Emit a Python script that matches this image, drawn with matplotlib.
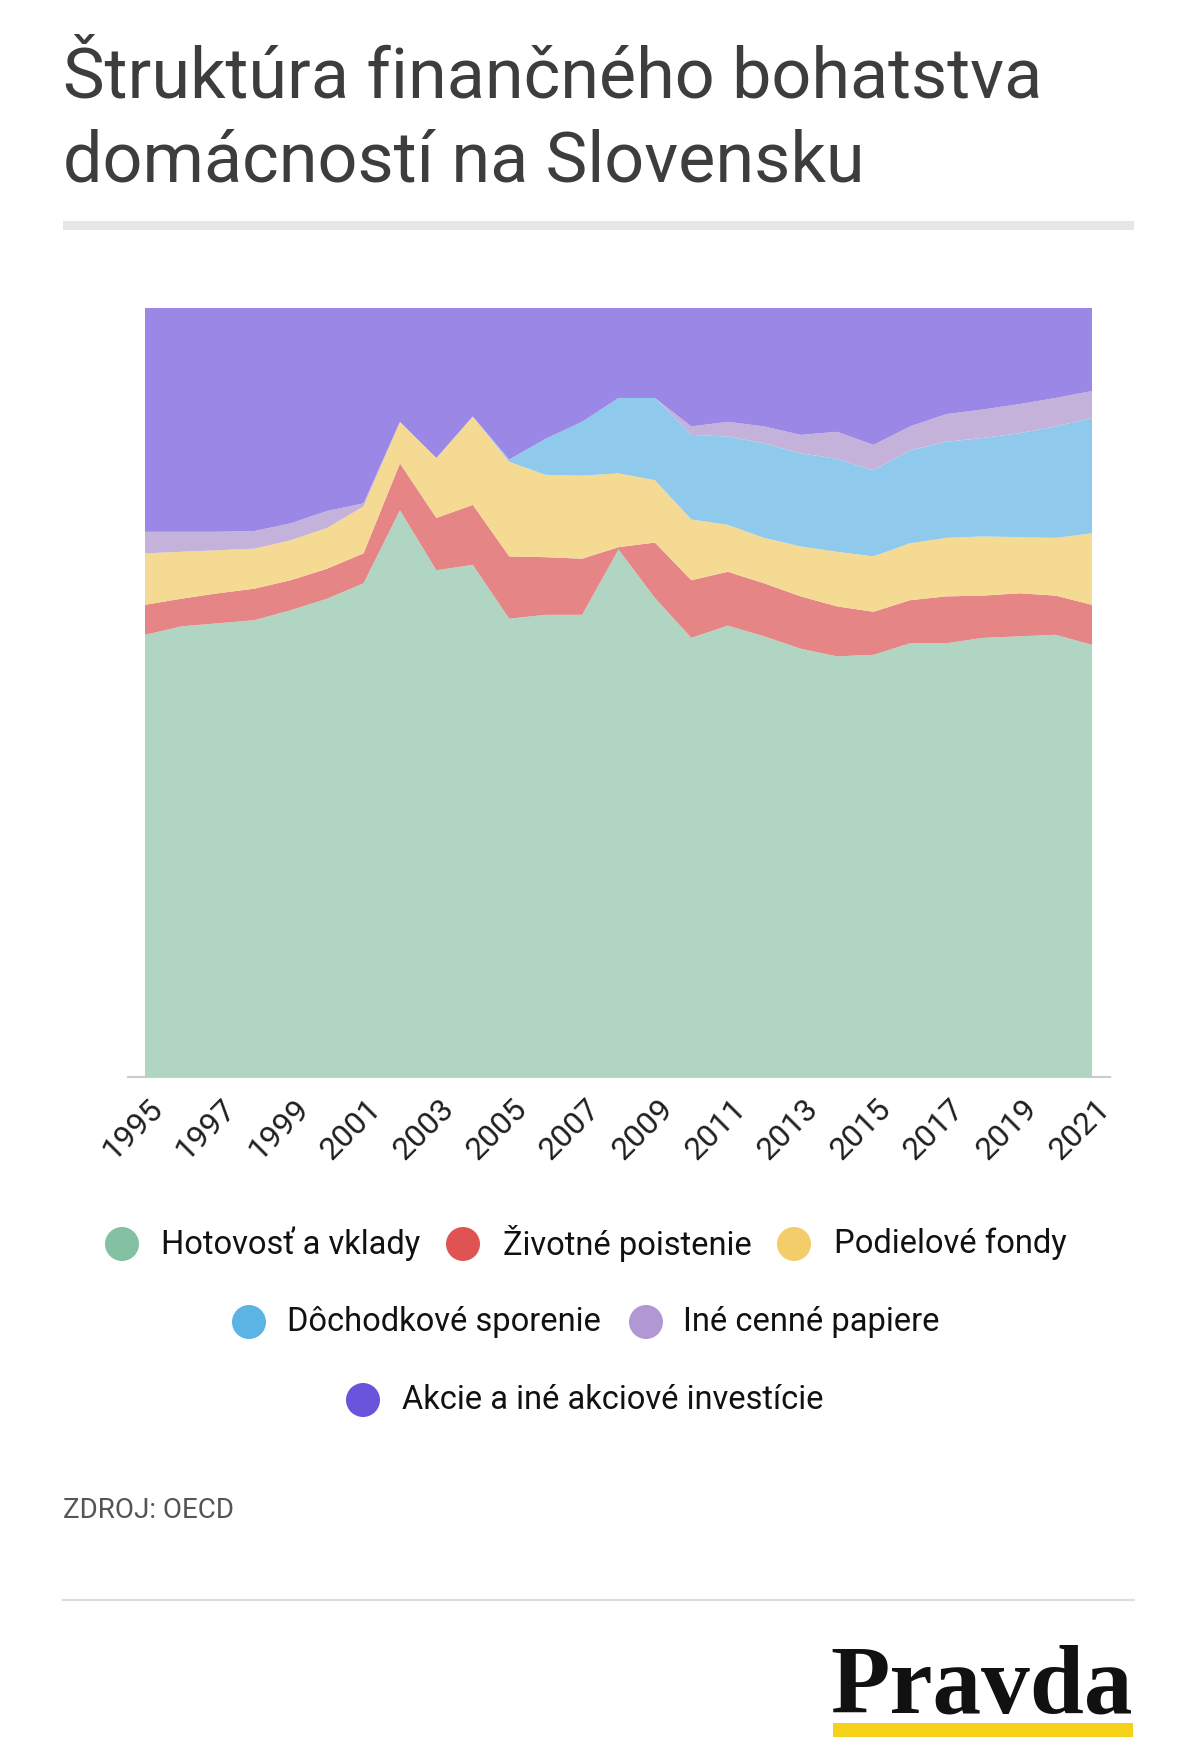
import numpy as np
import matplotlib
matplotlib.use('Agg')
from matplotlib import pyplot as plt
from matplotlib import transforms
from matplotlib.patches import Circle, Rectangle

plt.rcParams['font.family'] = ['Roboto', 'DejaVu Sans']

years = list(range(1995, 2022))

# podiel v % (odčítané z grafu)
cash = [57.5, 58.6, 59.0, 59.4, 60.7, 62.2, 64.2, 73.7, 65.9, 66.6, 59.6, 60.1, 60.1, 68.6,
        62.3, 57.1, 58.7, 57.3, 55.7, 54.7, 54.9, 56.4, 56.4, 57.1, 57.3, 57.5, 56.2]
life = [3.9, 3.6, 3.9, 4.1, 3.9, 3.9, 3.9, 6.1, 6.8, 7.8, 8.1, 7.5, 7.3, 0.3,
        7.2, 7.5, 7.0, 6.9, 6.8, 6.5, 5.6, 5.6, 6.1, 5.5, 5.6, 5.1, 5.2]
funds = [6.7, 6.1, 5.6, 5.2, 5.2, 5.3, 6.1, 5.4, 7.8, 11.5, 12.3, 10.7, 10.8, 9.6,
         8.1, 7.9, 6.1, 5.9, 6.5, 7.1, 7.2, 7.4, 7.6, 7.7, 7.3, 7.5, 9.3]
pension = [0, 0, 0, 0, 0, 0, 0, 0, 0, 0, 0.3, 4.7, 7.0, 9.8,
           10.7, 11.0, 11.5, 12.3, 12.1, 12.1, 11.2, 12.1, 12.5, 12.8, 13.5, 14.5, 15.0]
other = [2.8, 2.6, 2.4, 2.3, 2.2, 2.2, 0.4, 0, 0, 0, 0, 0, 0, 0,
         0, 1.1, 1.9, 2.2, 2.4, 3.5, 3.3, 3.1, 3.6, 3.7, 3.8, 3.7, 3.5]
stocks = [29.1, 29.1, 29.1, 29.0, 28.0, 26.4, 25.4, 14.8, 19.5, 14.1, 19.7, 17.0, 14.8, 11.7,
          11.7, 15.4, 14.8, 15.4, 16.5, 16.1, 17.8, 15.4, 13.8, 13.2, 12.5, 11.7, 10.8]

labels = ['Hotovosť a vklady', 'Životné poistenie', 'Podielové fondy',
          'Dôchodkové sporenie', 'Iné cenné papiere', 'Akcie a iné akciové investície']
area_colors = ['#b0d5c2', '#e68586', '#f5da93', '#8fcaec', '#c4b2da', '#9a87e6']
dot_colors = ['#84c1a3', '#e05353', '#f3cd6a', '#5cb4e4', '#b198d4', '#6b54dc']

W, H = 1200, 1746
fig = plt.figure(figsize=(W / 100, H / 100), dpi=100)

# vrstva pre texty a dekorácie v pixeloch
bg = fig.add_axes([0, 0, 1, 1])
bg.set_xlim(0, W)
bg.set_ylim(H, 0)
bg.axis('off')

bg.text(63, 78, 'Štruktúra finančného bohatstva', fontsize=50.5, color='#3d3d3d',
        va='center', ha='left')
bg.text(63, 162, 'domácností na Slovensku', fontsize=50.5, color='#3d3d3d',
        va='center', ha='left')
bg.add_patch(Rectangle((63, 221), 1071, 9, color='#e6e6e6', lw=0))

# graf
ax = fig.add_axes([145 / W, 1 - 1077 / H, 947 / W, 769 / H])
ax.stackplot(years, cash, life, funds, pension, other, stocks,
             colors=area_colors, lw=0)
ax.set_xlim(1995, 2021)
ax.set_ylim(0, 100)
for s in ax.spines.values():
    s.set_visible(False)
ax.set_yticks([])
ax.set_xticks(years[::2])
ax.tick_params(axis='x', length=0, pad=12)
ax.set_xticklabels([str(y) for y in years[::2]], rotation=45, ha='right',
                   rotation_mode='anchor', fontsize=23, color='#1e1e1e')
off = transforms.ScaledTranslation(3 / 100, 0, fig.dpi_scale_trans)
for lab in ax.get_xticklabels():
    lab.set_transform(lab.get_transform() + off)

bg.plot([128, 1110], [1077, 1077], color='#cccccc', lw=1.5)

# legenda
rows = [
    [(122, 161, 0), (463, 503, 1), (794, 834, 2)],
    [(249, 287, 3), (646, 683, 4)],
    [(363, 402, 5)],
]
row_y = [1244, 1322, 1400]
for ry, row in zip(row_y, rows):
    for cx, tx, k in row:
        bg.add_patch(Circle((cx, ry), 17, color=dot_colors[k], lw=0))
        bg.text(tx, ry, labels[k], fontsize=23.5, color='#111111', va='center', ha='left')

bg.text(63, 1510, 'ZDROJ: OECD', fontsize=20, color='#555555', va='center', ha='left')
bg.plot([63, 1134], [1600, 1600], color='#dddddd', lw=1.5)

bg.text(1133, 1712, 'Pravda', fontsize=70, family='Liberation Serif', weight='bold',
        color='#111111', ha='right', va='baseline')
bg.add_patch(Rectangle((833, 1723), 300, 14, color='#f7d117', lw=0))

fig.savefig('out.png', dpi=100)
